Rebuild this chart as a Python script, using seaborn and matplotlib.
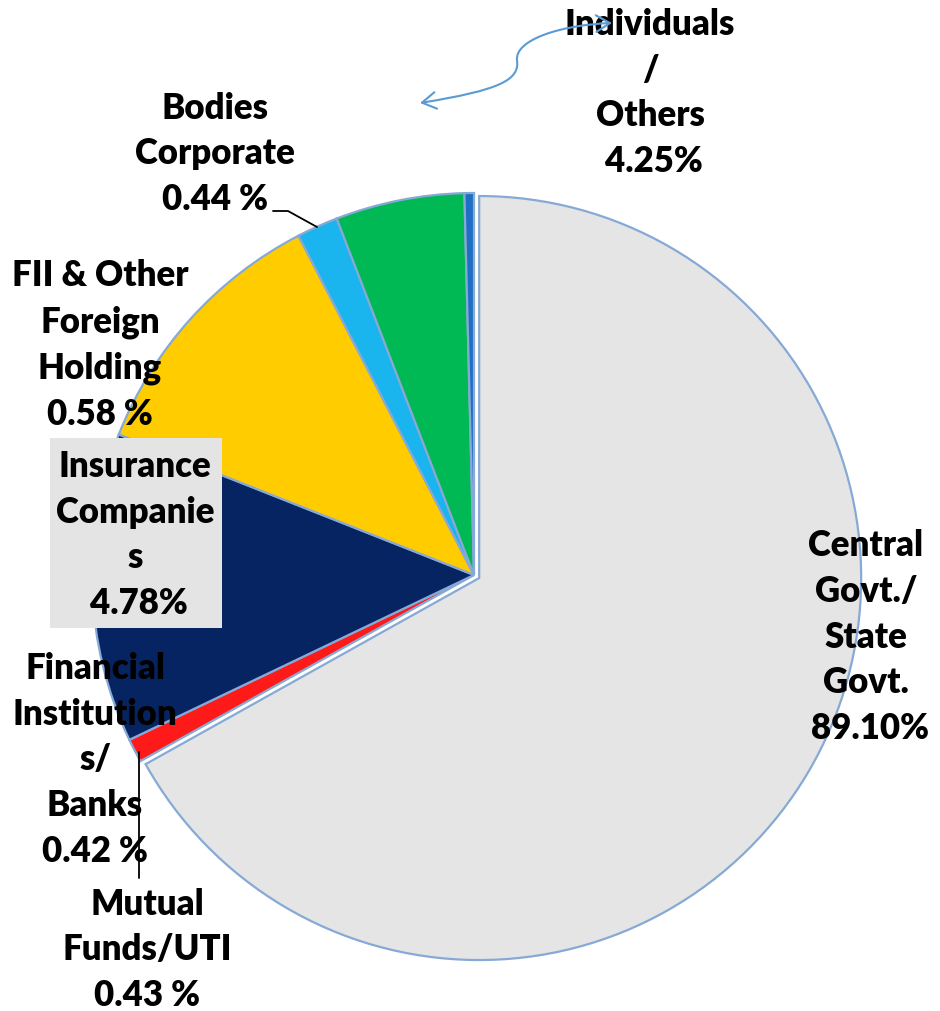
import matplotlib
matplotlib.use("Agg")
import matplotlib.pyplot as plt
from matplotlib.patches import FancyArrowPatch, Rectangle
from matplotlib.path import Path
import seaborn as sns

# slice sizes as drawn (percent of the circle), clockwise from 12 o'clock
holders = ["Central Govt./State Govt.", "Mutual Funds/UTI", "Insurance Companies",
           "FII & Other Foreign Holding", "Bodies Corporate", "Individuals/Others",
           "Financial Institutions/Banks"]
shares = [66.9, 1.0, 13.1, 11.4, 1.75, 5.45, 0.4]
slice_colors = ["#e5e5e5", "#ff1a1a", "#062462", "#ffcc00", "#1ab4ee", "#00b854", "#1f6fc4"]

# printed labels
lbl_central = "Central\nGovt./\nState\nGovt.\n 89.10%"
lbl_mutual = "Mutual\nFunds/UTI\n0.43 %"
lbl_fin = "Financial\nInstitution\ns/\nBanks\n0.42 %"
lbl_ins = "Insurance\nCompanie\ns\n 4.78%"
lbl_fii = "FII & Other\nForeign\nHolding\n0.58 %"
lbl_bodies = "Bodies\nCorporate\n0.44 %"
lbl_indiv = "Individuals\n/\nOthers\n 4.25%"

sns.set_style("white")
plt.rcParams['font.family'] = ['Lato', 'DejaVu Sans']

W, H = 940, 1011
fig = plt.figure(figsize=(W / 100, H / 100), dpi=100)
ax = fig.add_axes([0, 0, 1, 1])


def Y(y):
    return H - y


pal = sns.color_palette(slice_colors)
# explode is in data units here (pixels), the big slice is pulled out a little
ax.pie(shares, colors=pal, startangle=90, counterclock=False,
       center=(474, Y(575)), radius=382,
       explode=[6, 0, 0, 0, 0, 0, 0],
       wedgeprops=dict(edgecolor="#86a9d6", linewidth=1.6))

ax.set_xlim(0, W)
ax.set_ylim(0, H)
ax.set_aspect("equal")
ax.axis("off")

# grey box behind the insurance label
ax.add_patch(Rectangle((50, Y(628)), 172, 190, facecolor="#e4e4e4",
                       edgecolor="none", zorder=3))

txt = dict(fontsize=25, fontweight="heavy", color="black", ha="center",
           va="center", linespacing=1.48, zorder=4)
ax.text(866, Y(637), lbl_central, **txt)
ax.text(147, Y(950), lbl_mutual, **txt)
ax.text(95, Y(760), lbl_fin, **txt)
ax.text(135, Y(535), lbl_ins, **txt)
ax.text(100, Y(345), lbl_fii, **txt)
ax.text(215, Y(154), lbl_bodies, **txt)
ax.text(650, Y(93), lbl_indiv, **txt)

# leader lines
ax.plot([273, 288, 317], [Y(211), Y(211), Y(227)], color="black", lw=1.3, zorder=5)
ax.plot([139, 139], [Y(752), Y(878)], color="black", lw=1.3, zorder=5)

# curved double arrow
verts = [(420, Y(103)), (500, Y(90)), (520, Y(80)), (517, Y(60)),
         (515, Y(40)), (560, Y(25)), (612, Y(23))]
codes = [Path.MOVETO] + [Path.CURVE4] * 6
arrow = FancyArrowPatch(path=Path(verts, codes), arrowstyle="<->,head_length=10,head_width=6",
                        color="#5b9bd5", lw=1.5, zorder=6)
ax.add_patch(arrow)

fig.savefig("out.png", dpi=100)
